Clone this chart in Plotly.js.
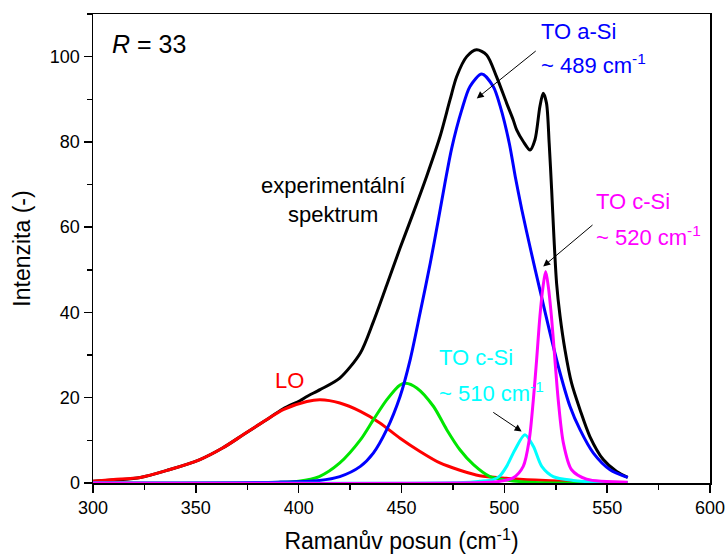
<!DOCTYPE html>
<html>
<head>
<meta charset="utf-8">
<script src="https://cdn.plot.ly/plotly-3.0.1.min.js"></script>
<style>
  html, body { margin: 0; padding: 0; background: #fff; }
  #chart { width: 727px; height: 558px; }
</style>
</head>
<body>
<div id="chart"></div>
<script>
// Raman spectrum of Si film (R = 33) and its fitted components
const expX = [300, 323, 337, 352, 363, 373, 383, 392.5, 400.6, 404, 410.4, 420, 430, 436.3, 442.8, 449.3, 455.7, 462.2, 468.7, 473.6, 476.8, 481.7, 486.5, 491.4, 496.2, 501.1, 504.3, 506, 509.2, 512.5, 514.9, 517.3, 518.9, 520.5, 521.8, 523, 524.1, 525.4, 527.1, 529.5, 532.7, 536.8, 541.6, 548.1, 554.6, 560];
const expY = [0.4, 1.3, 3.1, 5.5, 8.2, 11.3, 14.4, 17.4, 19.3, 20.3, 21.9, 24.6, 30.5, 37.8, 46.4, 55.1, 63.3, 71.9, 81.2, 89.9, 95.3, 100, 101.6, 100.4, 95.3, 89.1, 85.2, 82.8, 80.1, 78.1, 80.5, 88.3, 91.4, 89.1, 79.7, 68.8, 57.8, 46.9, 39.1, 31.2, 23.4, 17.2, 10.9, 5.5, 2.7, 1.3];

const loX = [300, 310, 323, 337, 352, 363, 373, 383, 392.5, 404, 410.4, 420, 430, 439.5, 449.3, 459, 468.7, 478.4, 488, 501, 515, 530, 545, 560];
const loY = [0.4, 0.8, 1.3, 3.1, 5.5, 8.2, 11.3, 14.4, 17.2, 19.1, 19.5, 18.75, 16.8, 14.1, 10.5, 7.4, 4.7, 3.0, 1.7, 1.1, 0.7, 0.4, 0.2, 0.1];

const g450X = [300, 380, 400, 410, 420, 430, 436.3, 442.8, 449.3, 452, 457.4, 465.5, 472, 478.4, 485, 493, 501, 515, 560];
const g450Y = [0, 0.05, 0.4, 1.5, 4.7, 10.1, 14.8, 19.5, 23.0, 23.4, 22.3, 18.0, 12.5, 7.8, 4.3, 1.5, 0.7, 0.1, 0];

const aSiX = [300, 390, 410, 420, 430, 436.3, 442.8, 449.3, 454.2, 459, 464, 468, 471, 474.4, 479.3, 483.3, 489, 494.6, 497.9, 502.4, 505.3, 508.5, 512.8, 517.3, 522.2, 527.1, 531.9, 536.8, 543.3, 551.4, 560];
const aSiY = [0, 0.2, 0.6, 1.5, 3.9, 7.0, 12.5, 20.3, 28.9, 39.8, 51.6, 62.0, 70.0, 78.5, 87.5, 93.0, 95.9, 93.0, 88.5, 79.7, 71.9, 64.1, 54.7, 45.3, 35.2, 25.8, 18.0, 12.5, 7.0, 3.1, 1.3];

const c510X = [300, 480, 488, 494.6, 497.9, 501.1, 505.2, 510, 514.1, 518.2, 523.8, 533.5, 545, 560];
const c510Y = [0, 0.1, 0.4, 0.8, 1.7, 3.9, 7.8, 11.3, 8.6, 3.9, 1.5, 0.6, 0.2, 0.1];

const c520X = [300, 490, 497.9, 504.3, 509.2, 512.1, 514.1, 515.7, 517.3, 518.8, 520.1, 521.4, 522.9, 524.6, 526.2, 528.7, 532.7, 540, 560];
const c520Y = [0, 0.1, 0.4, 1.2, 3.9, 10.1, 19.5, 28.9, 39.1, 46.0, 49.6, 46.0, 39.1, 28.9, 19.5, 9.4, 3.1, 0.9, 0.2];

const FONT = '"Liberation Sans", Arial, sans-serif';

function curve(x, y, color) {
  return {
    x: x, y: y, type: 'scatter', mode: 'lines',
    line: { color: color, width: 3, shape: 'spline', smoothing: 0.8 },
    hoverinfo: 'skip', showlegend: false
  };
}

const traces = [
  curve(expX, expY, '#000000'),
  curve(loX, loY, '#ff0000'),
  curve(g450X, g450Y, '#00e600'),
  curve(aSiX, aSiY, '#0000ff'),
  curve(c510X, c510Y, '#00ffff'),
  curve(c520X, c520Y, '#ff00ff')
];

function label(x, y, text, color, size, xanchor) {
  return {
    x: x, y: y, xref: 'x', yref: 'y', text: text, showarrow: false,
    xanchor: xanchor || 'left', yanchor: 'middle',
    font: { family: FONT, size: size, color: color }
  };
}

function arrow(x, y, ax, ay) {
  return {
    x: x, y: y, ax: ax, ay: ay, xref: 'x', yref: 'y', axref: 'x', ayref: 'y',
    text: '', showarrow: true, arrowhead: 2, arrowsize: 1.4, arrowwidth: 1, arrowcolor: '#000'
  };
}

const annotations = [
  label(308.5, 103.0, '<i>R</i> = 33', '#000', 25),
  label(416.7, 66.3, 'experimentální<br>spektrum', '#000', 22, 'center'),
  label(516.8, 106.0, 'TO a-Si', '#0000ff', 22),
  label(516.8, 98.3, '~ 489 cm<sup>-1</sup>', '#0000ff', 22),
  label(543.8, 66.0, 'TO c-Si', '#ff00ff', 22),
  label(543.8, 58.0, '~ 520 cm<sup>-1</sup>', '#ff00ff', 22),
  label(467.3, 29.4, 'TO c-Si', '#00ffff', 22),
  label(467.3, 21.4, '~ 510 cm<sup>-1</sup>', '#00ffff', 22),
  label(387.5, 24.0, 'LO', '#ff0000', 22),
  arrow(486.6, 90.2, 516.0, 101.6),
  arrow(518.9, 50.8, 543.6, 60.8),
  arrow(508.4, 12.1, 493.9, 16.8)
];

const layout = {
  width: 727, height: 558,
  margin: { l: 93, r: 17, t: 14, b: 75 },
  paper_bgcolor: '#fff', plot_bgcolor: '#fff',
  font: { family: FONT, color: '#000', size: 18 },
  xaxis: {
    range: [300, 600], dtick: 50, tick0: 300,
    ticks: 'outside', ticklen: 8, tickwidth: 1.5, tickcolor: '#000',
    minor: { dtick: 25, ticks: 'outside', ticklen: 5, tickwidth: 1.5, tickcolor: '#000' },
    showline: true, linecolor: '#000', linewidth: 1.5, mirror: true,
    showgrid: false, zeroline: false,
    tickfont: { family: FONT, size: 18, color: '#000' },
    title: { text: 'Ramanův posun (cm<sup>-1</sup>)', font: { family: FONT, size: 23, color: '#000' }, standoff: 16 }
  },
  yaxis: {
    range: [0, 110], dtick: 20, tick0: 0,
    ticks: 'outside', ticklen: 8, tickwidth: 1.5, tickcolor: '#000',
    minor: { dtick: 10, ticks: 'outside', ticklen: 5, tickwidth: 1.5, tickcolor: '#000' },
    showline: true, linecolor: '#000', linewidth: 1.5, mirror: true,
    showgrid: false, zeroline: false,
    tickfont: { family: FONT, size: 18, color: '#000' },
    title: { text: 'Intenzita (-)', font: { family: FONT, size: 23, color: '#000' }, standoff: 13 }
  },
  annotations: annotations
};

Plotly.newPlot('chart', traces, layout, { displayModeBar: false, staticPlot: true });
</script>
</body>
</html>
